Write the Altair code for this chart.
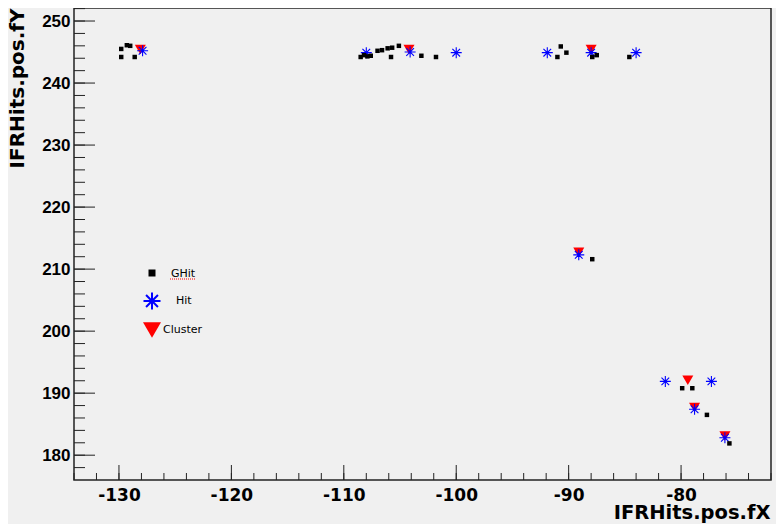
import altair as alt
import pandas as pd

# ---- data ----
ghit_x = [-129.8, -129.3, -129.0, -129.8, -128.6,
          -108.5, -108.2, -107.9, -107.6, -107.0, -106.6, -106.1, -105.7, -105.1, -105.8,
          -103.1, -101.8,
          -90.7, -90.2, -91.0, -87.9, -87.5, -84.6,
          -87.9,
          -79.9, -79.0, -77.7, -75.7]
ghit_y = [245.5, 246.1, 246.0, 244.2, 244.2,
          244.2, 244.5, 244.3, 244.4, 245.2, 245.3, 245.6, 245.7, 246.0, 244.2,
          244.4, 244.2,
          245.9, 244.9, 244.2, 244.2, 244.5, 244.2,
          211.6,
          190.8, 190.8, 186.5, 181.9]

hit_x = [-127.9, -108.0, -104.1, -100.0, -91.9, -88.0, -84.0, -89.1, -81.4, -77.3, -78.8, -76.1]
hit_y = [245.2, 244.9, 245.0, 244.9, 244.9, 244.9, 244.9, 212.3, 191.9, 191.9, 187.4, 182.8]

cluster_x = [-128.1, -104.2, -88.0, -89.1, -79.4, -78.8, -76.1]
cluster_y = [245.4, 245.4, 245.4, 212.7, 192.1, 187.7, 183.1]

legend_labels = ["GHit", "Hit", "Cluster"]

x_major = [-130, -120, -110, -100, -90, -80]
y_major = [180, 190, 200, 210, 220, 230, 240, 250]
x_minor = list(range(-134, -71, 2))
y_minor = list(range(178, 253, 2))

x_domain = [-134.0, -72.0]
y_domain = [176.0, 252.1]

# ---- styling ----
W, H = 697, 472
BG = "#f0f0f0"
FRAME = "#222222"
FONT = "Liberation Sans"
XFONT = "DejaVu Sans"
STAR = "M-1,0L1,0M0,-1L0,1M-0.7,-0.7L0.7,0.7M-0.7,0.7L0.7,-0.7"

ghit_df = pd.DataFrame({"x": ghit_x, "y": ghit_y})
hit_df = pd.DataFrame({"x": hit_x, "y": hit_y})
clu_df = pd.DataFrame({"x": cluster_x, "y": cluster_y})

xs = alt.Scale(domain=x_domain, nice=False, zero=False)
ys = alt.Scale(domain=y_domain, nice=False, zero=False)

ax_lab = alt.Axis(orient="bottom", values=x_major, ticks=False, domain=False, grid=False,
                  labelFont=XFONT, labelFontSize=17, labelFontWeight="bold", labelColor="black",
                  labelPadding=7, labelExpr="datum.value + ''",
                  title="IFRHits.pos.fX", titleFont=XFONT, titleFontSize=19.5,
                  titleFontWeight="bold", titleColor="black", titleAlign="right",
                  titleAnchor="end", titleBaseline="alphabetic", titleX=696, titleY=38)
ay_lab = alt.Axis(orient="left", values=y_major, ticks=False, domain=False, grid=False,
                  labelFont=FONT, labelFontSize=17, labelFontWeight="bold", labelColor="black",
                  labelPadding=4, labelExpr="datum.value + ''",
                  title="IFRHits.pos.fY", titleFont=XFONT, titleFontSize=20,
                  titleFontWeight="bold", titleColor="black", titleAlign="right",
                  titleAnchor="end", titleBaseline="alphabetic", titleAngle=270,
                  titleX=-51, titleY=0)

X = lambda f: alt.X(f, scale=xs, axis=ax_lab)
Y = lambda f: alt.Y(f, scale=ys, axis=ay_lab)


def xticks(vals, length):
    return alt.Chart(pd.DataFrame({"v": vals})).mark_rule(color=FRAME, strokeWidth=1).encode(
        x=X("v:Q"), y=alt.value(H), y2=alt.value(H - length),
    )


def yticks(vals, length):
    return alt.Chart(pd.DataFrame({"v": vals})).mark_rule(color=FRAME, strokeWidth=1).encode(
        y=Y("v:Q"), x=alt.value(0), x2=alt.value(length),
    )


tick_layers = [xticks(x_minor, 7), xticks(x_major, 15), yticks(y_minor, 11), yticks(y_major, 21)]

ghits = alt.Chart(ghit_df).mark_square(color="black", size=20, opacity=1).encode(
    x=X("x:Q"), y=Y("y:Q"),
)

clusters = alt.Chart(clu_df).mark_point(
    shape="triangle-down", filled=True, color="#ff0000", size=121, opacity=1
).encode(x=X("x:Q"), y=Y("y:Q"))

hits = alt.Chart(hit_df).mark_point(
    shape=STAR, filled=False, color="#0000ff", size=121, strokeWidth=1.1, opacity=1
).encode(x=X("x:Q"), y=Y("y:Q"))

# ---- in-plot legend ----
leg_sym = [
    dict(shape="square", filled=True, color="black", size=49, px=78, py=265),
    dict(shape=STAR, filled=False, color="#0000ff", size=289, px=78, py=293),
    dict(shape="triangle-down", filled=True, color="#ff0000", size=324, px=78, py=322),
]
leg_txt = [(97, 269), (102, 296), (89, 325)]

legend_layers = []
for lab, s, (tx, ty) in zip(legend_labels, leg_sym, leg_txt):
    d = pd.DataFrame({"label": [lab]})
    kw = dict(shape=s["shape"], filled=s["filled"], color=s["color"], size=s["size"], opacity=1)
    if not s["filled"]:
        kw["strokeWidth"] = 2
    legend_layers.append(
        alt.Chart(d).mark_point(**kw).encode(x=alt.value(s["px"]), y=alt.value(s["py"]))
    )
    legend_layers.append(
        alt.Chart(d).mark_text(align="left", baseline="alphabetic", font="DejaVu Sans",
                               fontSize=11, color="black")
        .encode(x=alt.value(tx), y=alt.value(ty), text="label:N")
    )

underline = alt.Chart(pd.DataFrame({"label": ["GHit"]})).mark_rule(
    color="#ff0000", strokeDash=[1, 1], strokeWidth=1
).encode(x=alt.value(96), x2=alt.value(121), y=alt.value(271))

chart = alt.layer(*tick_layers, clusters, hits, ghits, *legend_layers, underline).properties(
    width=W, height=H,
    autosize=alt.AutoSizeParams(type="none"),
    padding={"left": 66, "top": 0, "right": 5, "bottom": 44},
    background=BG,
).configure_view(stroke=FRAME, strokeWidth=1.5, fill=BG)

chart.save("out.html", embed_options={"renderer": "svg", "actions": False})
